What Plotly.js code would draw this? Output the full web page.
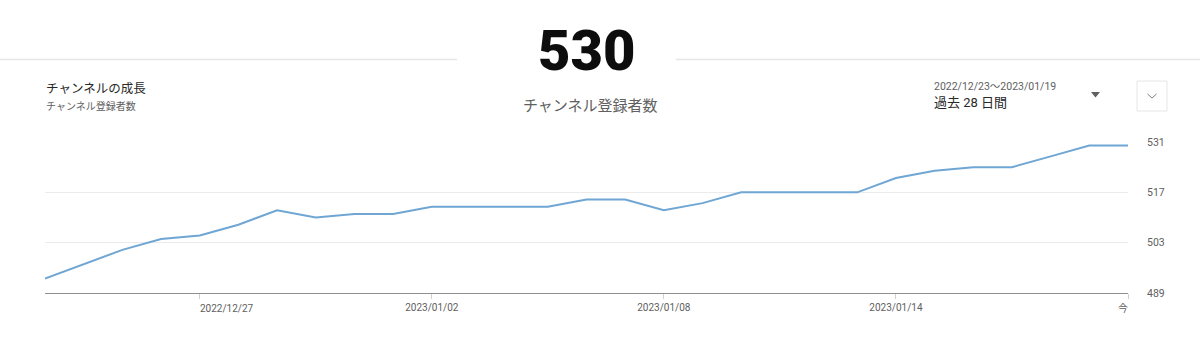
<!DOCTYPE html>
<html>
<head>
<meta charset="utf-8">
<script src="https://cdn.plot.ly/plotly-3.0.1.min.js"></script>
<style>
  html, body { margin: 0; padding: 0; background: #fff; }
  #chart { width: 1200px; height: 340px; }
</style>
</head>
<body>
<div id="chart"></div>
<script>
// ---- data ----
const dates = [
  '2022/12/23','2022/12/24','2022/12/25','2022/12/26','2022/12/27','2022/12/28','2022/12/29',
  '2022/12/30','2022/12/31','2023/01/01','2023/01/02','2023/01/03','2023/01/04','2023/01/05',
  '2023/01/06','2023/01/07','2023/01/08','2023/01/09','2023/01/10','2023/01/11','2023/01/12',
  '2023/01/13','2023/01/14','2023/01/15','2023/01/16','2023/01/17','2023/01/18','2023/01/19',
  '2023/01/20'
];
const subscribers = [
  493, 497, 501, 504, 505, 508, 512,
  510, 511, 511, 513, 513, 513, 513,
  515, 515, 512, 514, 517, 517, 517,
  517, 521, 523, 524, 524, 527, 530,
  530
];
const xTickVals = ['2022/12/27','2023/01/02','2023/01/08','2023/01/14','2023/01/20'];
const xTickText = ['2022/12/27','2023/01/02','2023/01/08','2023/01/14','今'];
const yTickVals = [489, 503, 517, 531];
const currentTotal = '530';
const metricName = 'チャンネル登録者数';
const cardTitle = 'チャンネルの成長';
const cardSubtitle = 'チャンネル登録者数';
const dateRange = '2022/12/23〜2023/01/19';
const periodLabel = '過去 28 日間';

// ---- layout helpers (pixel -> paper) ----
const L = 45, R = 1128, T = 142, B = 293;
const px = v => (v - L) / (R - L);
const py = v => (B - v) / (B - T);

const FONT = 'Roboto, "Noto Sans CJK JP", sans-serif';
const TICKFONT = { family: FONT, size: 10, color: '#606060' };

const trace = {
  x: dates,
  y: subscribers,
  type: 'scatter',
  mode: 'lines',
  line: { color: '#6fa6d3', width: 2 },
  hoverinfo: 'x+y'
};

// first and last x labels are aligned to the edge of their tick (as in the reference)
const lastIdx = xTickText.length - 1;
const shownTickText = xTickText.map((t, i) => (i === 0 || i === lastIdx) ? '' : t);

const layout = {
  width: 1200,
  height: 340,
  margin: { l: L, r: 1200 - R, t: T, b: 340 - B },
  paper_bgcolor: '#ffffff',
  plot_bgcolor: '#ffffff',
  showlegend: false,
  font: { family: FONT, color: '#606060', size: 11 },
  xaxis: {
    type: 'category',
    range: [0, dates.length - 1],
    tickmode: 'array',
    tickvals: xTickVals,
    ticktext: shownTickText,
    showgrid: false,
    zeroline: false,
    showline: true,
    linecolor: '#909090',
    linewidth: 1,
    ticks: 'outside',
    ticklen: 5,
    tickcolor: '#d0d0d0',
    tickfont: TICKFONT,
    fixedrange: true
  },
  yaxis: {
    side: 'right',
    range: [489, 531],
    tickmode: 'array',
    tickvals: yTickVals,
    showgrid: true,
    gridcolor: '#ebebeb',
    gridwidth: 1,
    zeroline: false,
    showline: false,
    ticks: '',
    ticklabelstandoff: 18,
    tickfont: { family: FONT, size: 10.5, color: '#606060' },
    fixedrange: true
  },
  shapes: [
    { type: 'line', xref: 'paper', yref: 'paper', x0: px(0), x1: px(457), y0: py(59.5), y1: py(59.5),
      line: { color: '#e5e5e5', width: 1.5 } },
    { type: 'line', xref: 'paper', yref: 'paper', x0: px(676), x1: px(1200), y0: py(59.5), y1: py(59.5),
      line: { color: '#e5e5e5', width: 1.5 } },
    { type: 'rect', xref: 'paper', yref: 'paper', x0: px(1137), x1: px(1167), y0: py(111), y1: py(81),
      line: { color: '#e6e6e6', width: 1 }, fillcolor: 'rgba(0,0,0,0)' },
    { type: 'path', xref: 'paper', yref: 'paper',
      path: 'M ' + px(1091) + ' ' + py(92) + ' L ' + px(1100) + ' ' + py(92) + ' L ' + px(1095.5) + ' ' + py(97.5) + ' Z',
      fillcolor: '#606060', line: { width: 0 } },
    { type: 'path', xref: 'paper', yref: 'paper',
      path: 'M ' + px(1147.5) + ' ' + py(94) + ' L ' + px(1152) + ' ' + py(98) + ' L ' + px(1156.5) + ' ' + py(94),
      line: { color: '#808080', width: 1 } }
  ],
  annotations: [
    { text: currentTotal, xref: 'paper', yref: 'paper', x: px(586), y: py(51),
      xanchor: 'center', yanchor: 'middle', showarrow: false,
      font: { family: 'Roboto, sans-serif', size: 56, color: '#0d0d0d', weight: 900 } },
    { text: metricName, xref: 'paper', yref: 'paper', x: px(590), y: py(106),
      xanchor: 'center', yanchor: 'middle', showarrow: false,
      font: { family: FONT, size: 15, color: '#606060' } },
    { text: cardTitle, xref: 'paper', yref: 'paper', x: px(44), y: py(88),
      xanchor: 'left', yanchor: 'middle', showarrow: false,
      font: { family: FONT, size: 12.5, color: '#282828' } },
    { text: cardSubtitle, xref: 'paper', yref: 'paper', x: px(44), y: py(106),
      xanchor: 'left', yanchor: 'middle', showarrow: false,
      font: { family: FONT, size: 10, color: '#606060' } },
    { text: dateRange, xref: 'paper', yref: 'paper', x: px(932), y: py(86),
      xanchor: 'left', yanchor: 'middle', showarrow: false,
      font: { family: FONT, size: 10.5, color: '#606060' } },
    { text: periodLabel, xref: 'paper', yref: 'paper', x: px(932), y: py(102),
      xanchor: 'left', yanchor: 'middle', showarrow: false,
      font: { family: FONT, size: 13, color: '#282828' } },
    { text: xTickText[0], xref: 'x', yref: 'paper', x: xTickVals[0], y: py(308),
      xanchor: 'left', yanchor: 'middle', showarrow: false, xshift: -2, font: TICKFONT },
    { text: xTickText[lastIdx], xref: 'x', yref: 'paper', x: xTickVals[lastIdx], y: py(308),
      xanchor: 'right', yanchor: 'middle', showarrow: false, xshift: 2, font: TICKFONT }
  ]
};

Plotly.newPlot('chart', [trace], layout, { displayModeBar: false });
</script>
</body>
</html>
